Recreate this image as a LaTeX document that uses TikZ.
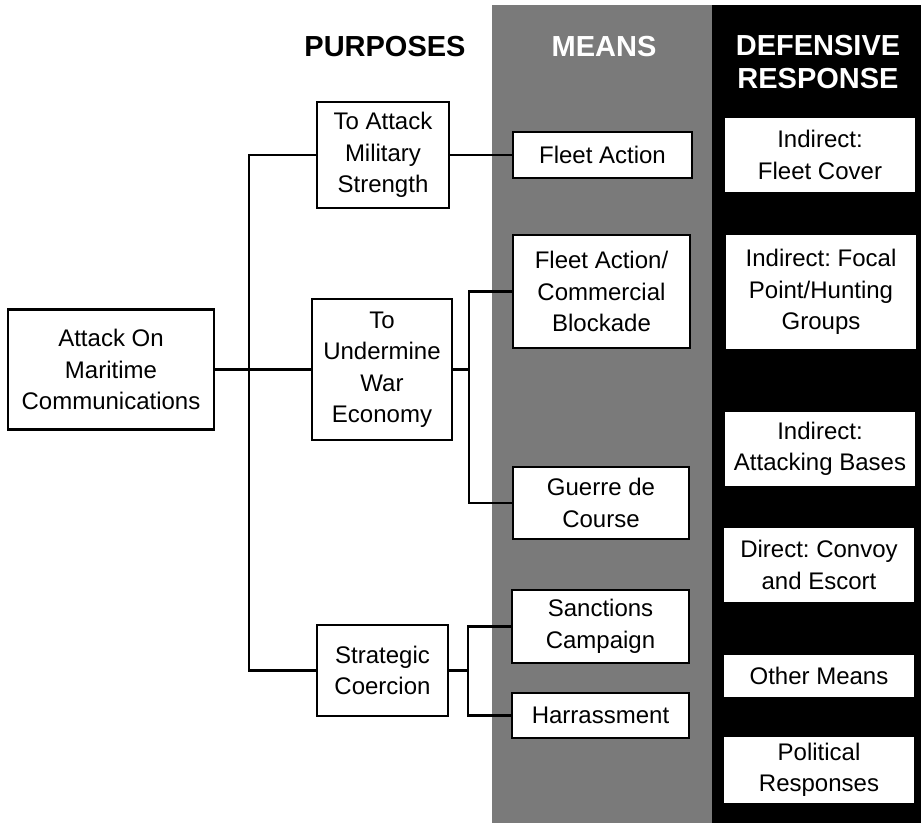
\documentclass[tikz,border=0pt]{standalone}
\usepackage{fontspec}
\setmainfont{Liberation Sans}
\frenchspacing
\begin{document}
\begin{tikzpicture}[x=1pt,y=-1pt,
  box/.style={draw=black, line width=2.6pt, fill=white, align=center, inner sep=0pt,
              font=\fontsize{24}{31.5}\selectfont},
  wbox/.style={fill=white, align=center, inner sep=0pt, minimum width=190pt,
              font=\fontsize{24}{31.5}\selectfont},
  hdr/.style={font=\fontsize{29}{33}\selectfont\bfseries, inner sep=0pt, anchor=base},
  conn/.style={line width=2.5pt}]
\useasboundingbox (0,0) rectangle (921,823);
% bands
\fill[black!52] (492,5) rectangle (712,823);
\fill[black] (712,5) rectangle (921,823);
% headers
\node[hdr] (hpur) at (385,56) {PURPOSES};
\node[hdr, text=white] (hmea) at (604,56) {MEANS};
\node[hdr, text=white] (hdef) at (818,55) {DEFENSIVE};
\node[hdr, text=white] (hres) at (818,88) {RESPONSE};
% root
\node[box, minimum width=206pt, minimum height=120pt] (attack) at (111,369.5) {Attack On\\Maritime\\Communications};
% purposes
\node[box, minimum width=132pt, minimum height=106pt] (mil) at (383,155) {To Attack\\Military\\Strength};
\node[box, minimum width=140pt, minimum height=141pt] (econ) at (382,369.5) {To\\Undermine\\War\\Economy};
\node[box, minimum width=131pt, minimum height=91pt] (strat) at (382.5,670.5) {Strategic\\Coercion};
% means
\node[box, minimum width=179pt, minimum height=46pt] (fleet) at (602.5,155) {Fleet Action};
\node[box, minimum width=177pt, minimum height=113pt] (block) at (601.5,291.5) {Fleet Action/\\Commercial\\Blockade};
\node[box, minimum width=176pt, minimum height=72pt] (guerre) at (601,503) {Guerre de\\Course};
\node[box, minimum width=177pt, minimum height=73pt] (sanct) at (600.5,626.5) {Sanctions\\Campaign};
\node[box, minimum width=177pt, minimum height=45pt] (harr) at (600.5,715.5) {Harrassment};
% defensive responses
\node[wbox, minimum height=74pt] (cover) at (820,155) {Indirect:\\Fleet Cover};
\node[wbox, minimum height=114pt] (focal) at (821,292) {Indirect: Focal\\Point/Hunting\\Groups};
\node[wbox, minimum height=74pt] (bases) at (820,449) {Indirect:\\Attacking Bases};
\node[wbox, minimum height=74pt] (convoy) at (819,565) {Direct: Convoy\\and Escort};
\node[wbox, minimum height=42pt] (other) at (819,676) {Other Means};
\node[wbox, minimum height=66pt] (polit) at (819,770) {Political\\Responses};
% connectors
\coordinate (t1) at (249,0);
\coordinate (t2) at (469,0);
\coordinate (t3) at (468,0);
\draw[conn] (attack.east) -- (econ.west);
\draw[conn] (mil.west) -- (mil.west -| t1) -- (strat.west -| t1) -- (strat.west);
\draw[conn] (mil.east) -- (fleet.west);
\draw[conn] (econ.east) -- (econ.east -| t2);
\draw[conn] (block.west) -- (block.west -| t2) -- (guerre.west -| t2) -- (guerre.west);
\draw[conn] (strat.east) -- (strat.east -| t3);
\draw[conn] (sanct.west) -- (sanct.west -| t3) -- (harr.west -| t3) -- (harr.west);
\end{tikzpicture}
\end{document}
